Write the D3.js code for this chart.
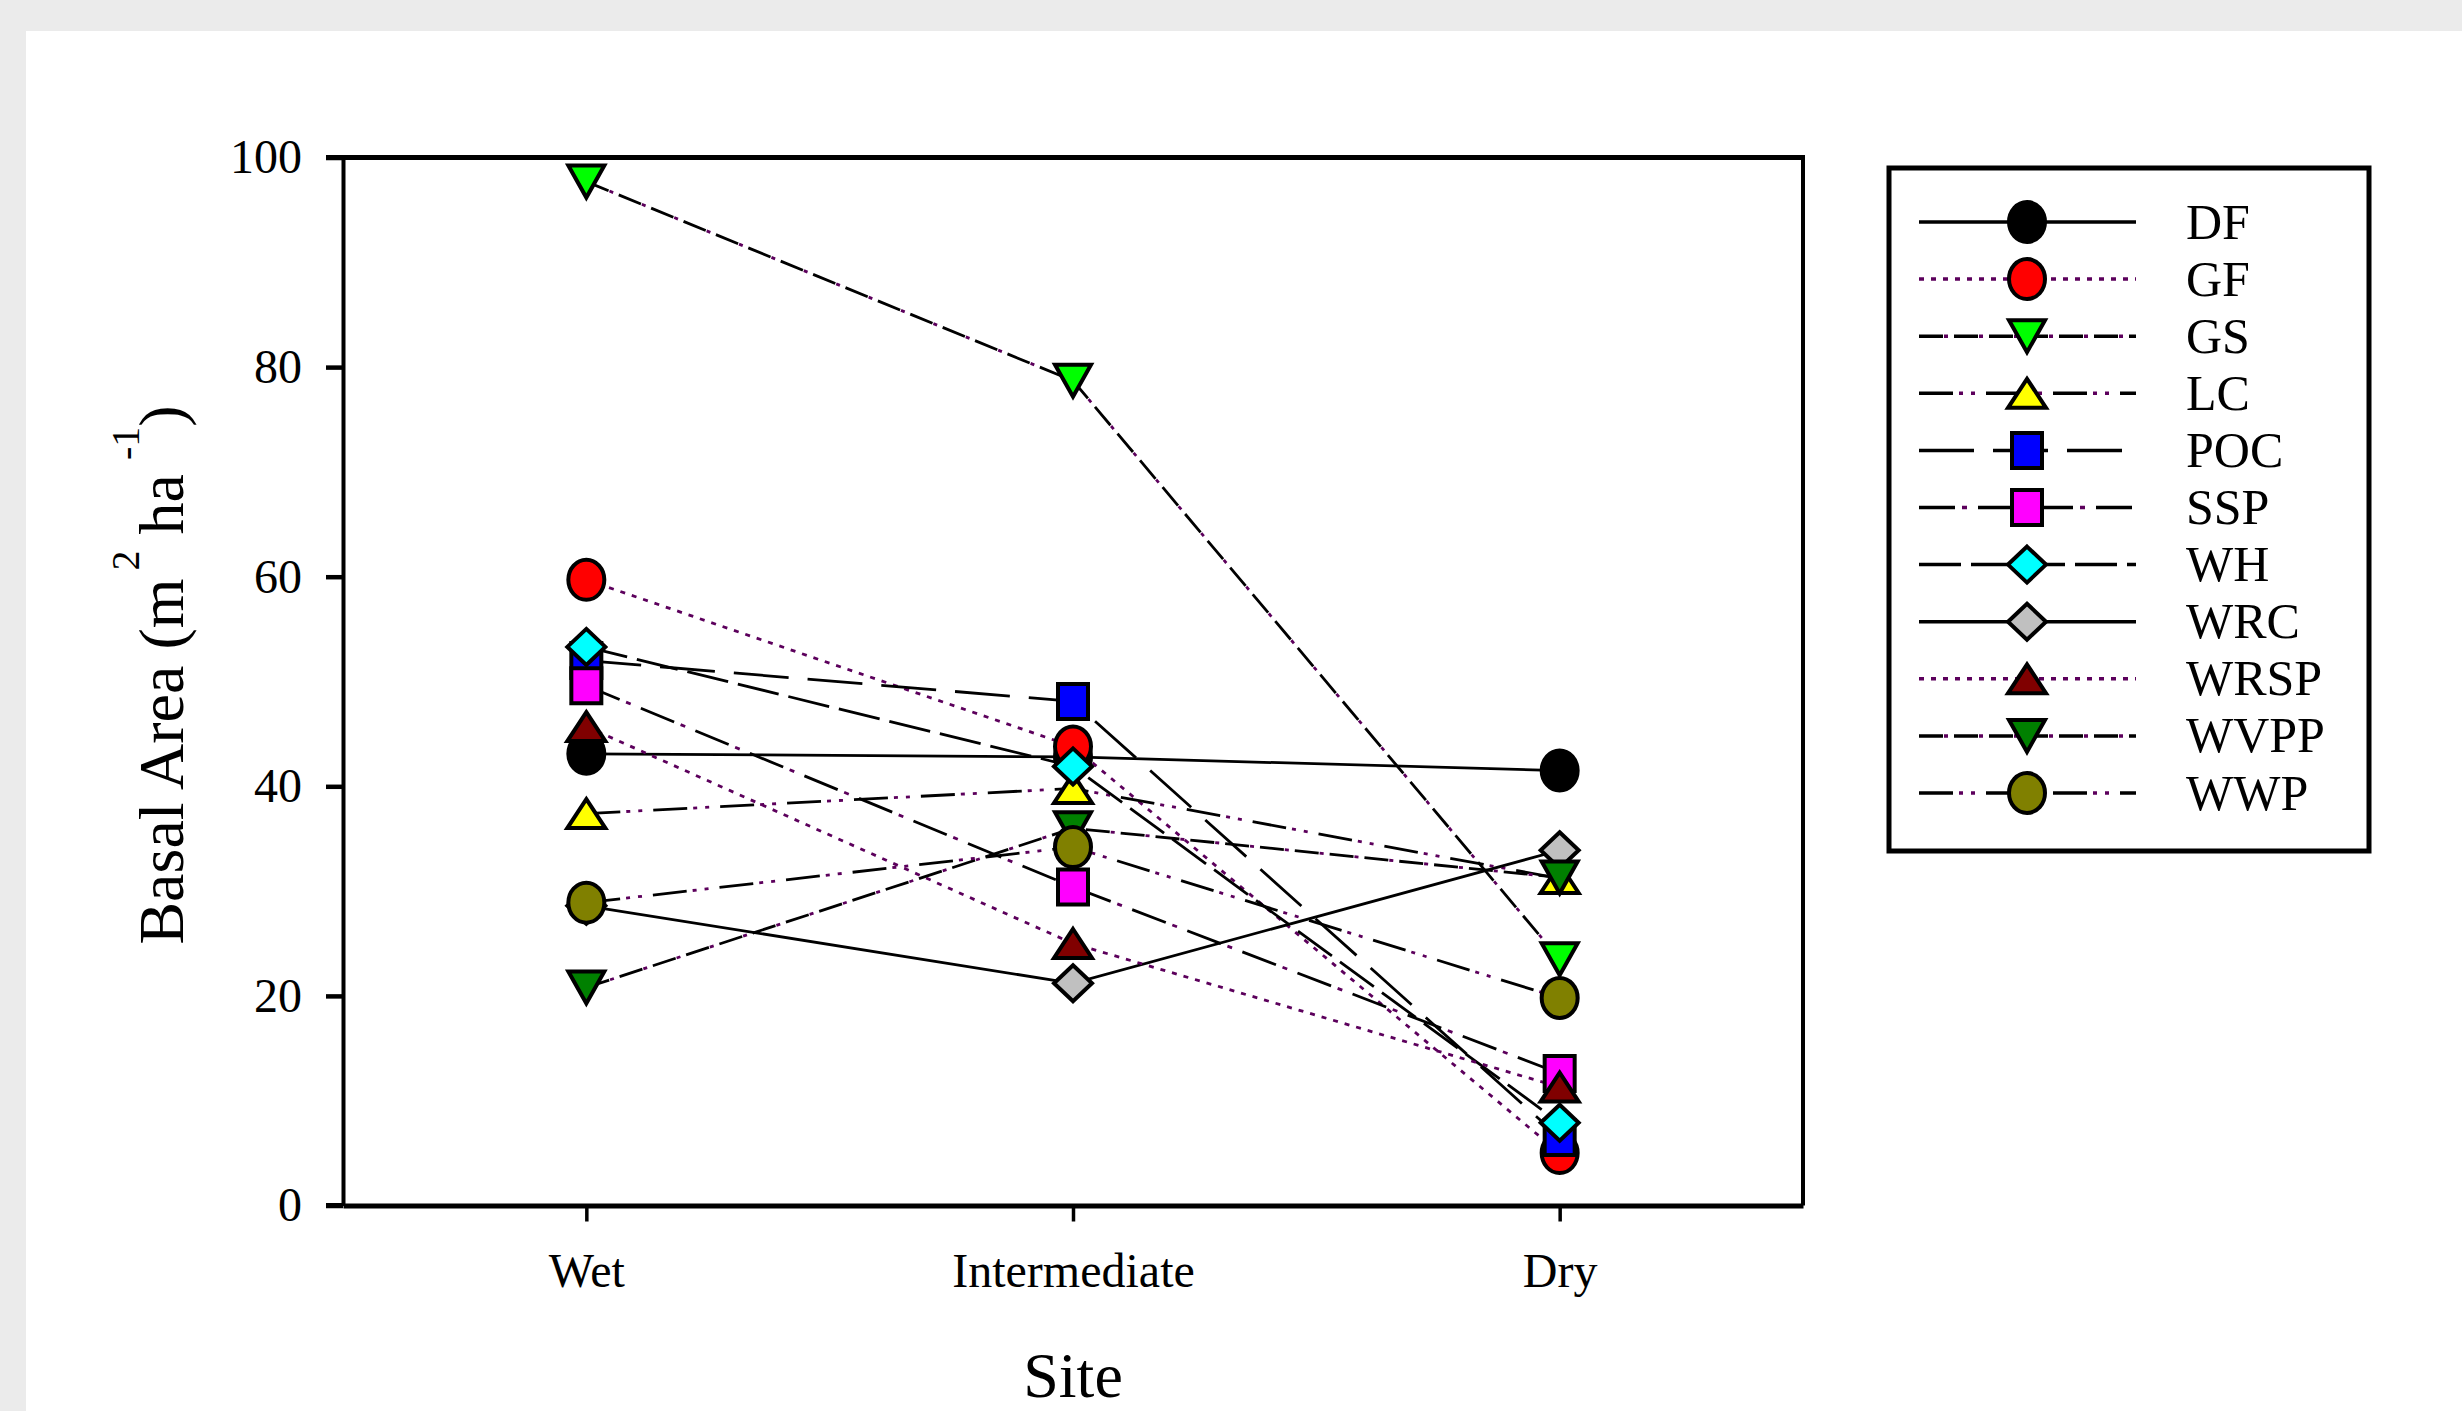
<!DOCTYPE html>
<html>
<head>
<meta charset="utf-8">
<script src="https://cdn.jsdelivr.net/npm/d3@7/dist/d3.min.js"></script>
<style>
	html, body { margin:0; padding:0; background:#ebebeb; overflow:hidden; }
	#chart { position:absolute; left:0; top:0; }
	text { font-family: "Liberation Serif", "Times New Roman", serif; fill:#000; }
</style>
</head>
<body>
<div id="chart"></div>
<script>

	// ---- data ----
	var sites   = ["Wet", "Intermediate", "Dry"];
	var species = ["DF", "GF", "GS", "LC", "POC", "SSP", "WH", "WRC", "WRSP", "WVPP", "WWP"];

	var DF   = [43.1, 42.8, 41.5];
	var GF   = [59.7, 43.8,  5.0];
	var GS   = [97.7, 78.7, 23.5];
	var LC   = [37.4, 39.8, 31.2];
	var POC  = [52.0, 48.1,  6.5];
	var SSP  = [49.6, 30.4, 12.6];
	var WH   = [53.3, 41.9,  7.9];
	var WRC  = [28.6, 21.2, 33.9];
	var WRSP = [45.7, 25.0, 11.3];
	var WVPP = [20.8, 36.0, 31.3];
	var WWP  = [28.9, 34.2, 19.8];

	var yTicks = [0, 20, 40, 60, 80, 100];

	var seriesValues = [DF, GF, GS, LC, POC, SSP, WH, WRC, WRSP, WVPP, WWP];

	// symbol + fill + line style per series
	var symbols = ["circle", "circle", "down", "up", "square", "square", "diamond", "diamond", "up", "down", "circle"];
	var fills   = ["#000000", "#ff0000", "#00ff00", "#ffff00", "#0000ff", "#ff00ff", "#00ffff", "#c0c0c0", "#800000", "#008000", "#808000"];
	var lineTypes = ["solid", "dot", "shortdash", "dashdotdot", "longdash", "dashdot", "meddash", "solid", "dot", "shortdash", "dashdotdot"];

	var purple = "#5c005c";

	// black part / purple part of each line type
	var lineStyles = {
		solid:      { black: null,      purple: undefined },
		dot:        { black: undefined, purple: "5,7" },
		shortdash:  { black: "24,11",   purple: "0,25,4,6" },
		dashdotdot: { black: "34,33",   purple: "0,40,4,8,4,11" },
		longdash:   { black: "55,19",   purple: undefined },
		dashdot:    { black: "36,23",   purple: "0,43,5,11" },
		meddash:    { black: "42,10",   purple: undefined }
	};

	// marker outline
	function symbolPath(type){
		var w, h;
		if(type == "circle"){
			w = 18; h = 20;
			return "M" + (-w) + ",0 A" + w + "," + h + " 0 1 0 " + w + ",0 A" + w + "," + h + " 0 1 0 " + (-w) + ",0 Z";
		}
		if(type == "square"){
			w = 30; h = 35;
			return "M" + (-w/2) + "," + (-h/2) + " H" + (w/2) + " V" + (h/2) + " H" + (-w/2) + " Z";
		}
		if(type == "up"){
			w = 38; h = 29;
			return "M0," + (-h/2) + " L" + (w/2) + "," + (h/2) + " L" + (-w/2) + "," + (h/2) + " Z";
		}
		if(type == "down"){
			w = 36; h = 32;
			return "M" + (-w/2) + "," + (-h/2) + " L" + (w/2) + "," + (-h/2) + " L0," + (h/2) + " Z";
		}
		// diamond
		w = 38; h = 36;
		return "M0," + (-h/2) + " L" + (w/2) + ",0 L0," + (h/2) + " L" + (-w/2) + ",0 Z";
	}


	// ---- canvas ----
	var W = 2462, H = 1411;
	var plot = {left: 343, right: 1803, top: 157.5, bottom: 1205.5};

	var svg = d3.select("#chart").append("svg")
				.attr("width", W)
				.attr("height", H);

	svg.append("rect").attr("width", W).attr("height", H).attr("fill", "#ebebeb");
	svg.append("rect").attr("x", 26).attr("y", 31).attr("width", W - 26).attr("height", H - 31).attr("fill", "#ffffff");


	// ---- scales / axes ----
	var x = d3.scalePoint().domain(sites).range([plot.left, plot.right]).padding(0.5);
	var y = d3.scaleLinear().domain([0, 100]).range([plot.bottom, plot.top]);

	var yAxis = d3.axisLeft(y).tickValues(yTicks).tickSize(17).tickSizeOuter(0).tickPadding(24);
	var xAxis = d3.axisBottom(x).tickSize(16).tickSizeOuter(0).tickPadding(31);

	var gy = svg.append("g")
				.attr("transform", "translate(" + plot.left + ",0)")
				.call(yAxis);
	gy.select(".domain").attr("stroke-width", 4);
	gy.selectAll(".tick line").attr("stroke-width", 4.5);
	gy.selectAll(".tick text").attr("font-size", 48).attr("font-family", null);

	var gx = svg.append("g")
				.attr("transform", "translate(0," + plot.bottom + ")")
				.call(xAxis);
	gx.select(".domain").attr("stroke-width", 5);
	gx.selectAll(".tick line").attr("stroke-width", 3.5);
	gx.selectAll(".tick text").attr("font-size", 48).attr("font-family", null);

	// top and right frame
	svg.append("line")
		.attr("x1", 326).attr("x2", plot.right + 2)
		.attr("y1", plot.top).attr("y2", plot.top)
		.attr("stroke", "#000").attr("stroke-width", 5);
	svg.append("line")
		.attr("x1", plot.right).attr("x2", plot.right)
		.attr("y1", plot.top).attr("y2", plot.bottom)
		.attr("stroke", "#000").attr("stroke-width", 4);
	svg.append("line")
		.attr("x1", 326).attr("x2", plot.left)
		.attr("y1", plot.bottom).attr("y2", plot.bottom)
		.attr("stroke", "#000").attr("stroke-width", 5);


	// ---- axis titles ----
	svg.append("text")
		.attr("x", x("Intermediate"))
		.attr("y", 1397)
		.attr("text-anchor", "middle")
		.attr("font-size", 64)
		.text("Site");

	var yTitle = svg.append("text")
		.attr("transform", "translate(183,675) rotate(-90)")
		.attr("text-anchor", "middle")
		.attr("font-size", 64);
	yTitle.append("tspan").text("Basal Area (m");
	yTitle.append("tspan").attr("dx", 8).attr("dy", -44).attr("font-size", 40).text("2");
	yTitle.append("tspan").attr("dy", 44).text(" ha");
	yTitle.append("tspan").attr("dx", 14).attr("dy", -44).attr("font-size", 40).text("-1");
	yTitle.append("tspan").attr("dy", 44).text(")");


	// ---- lines ----
	var drawLine = d3.line()
				.x(function(d, i) { return x(sites[i]); })
				.y(function(d) { return y(d); });

	function styledLine(parent, d, type, lw){
		var st = lineStyles[type];
		if(st.black !== undefined){
			parent.append("path")
				.attr("d", d)
				.attr("fill", "none")
				.attr("stroke", "#000")
				.attr("stroke-width", lw)
				.attr("stroke-dasharray", st.black);
		}
		if(st.purple !== undefined){
			parent.append("path")
				.attr("d", d)
				.attr("fill", "none")
				.attr("stroke", purple)
				.attr("stroke-width", lw)
				.attr("stroke-dasharray", st.purple);
		}
	}

	var lineGroup = svg.append("g").attr("class", "lines");
	seriesValues.forEach(function(vals, i){
		styledLine(lineGroup, drawLine(vals), lineTypes[i], 2.8);
	});

	// ---- markers ----
	var markGroup = svg.append("g").attr("class", "markers");
	seriesValues.forEach(function(vals, i){
		markGroup.selectAll(".m" + i)
			.data(vals)
			.enter().append("path")
				.attr("class", "m" + i)
				.attr("d", symbolPath(symbols[i]))
				.attr("transform", function(d, k) { return "translate(" + x(sites[k]) + "," + y(d) + ")"; })
				.attr("fill", fills[i])
				.attr("stroke", "#000")
				.attr("stroke-width", 4);
	});


	// ---- legend ----
	var legRow = d3.scalePoint().domain(species).range([222, 793]);

	svg.append("rect")
		.attr("x", 1889).attr("y", 168)
		.attr("width", 480).attr("height", 683)
		.attr("fill", "#fff")
		.attr("stroke", "#000")
		.attr("stroke-width", 5);

	species.forEach(function(name, i){
		var g = svg.append("g").attr("transform", "translate(0," + legRow(name) + ")");
		styledLine(g, "M1919,0 L2136,0", lineTypes[i], 3.5);
		g.append("path")
			.attr("d", symbolPath(symbols[i]))
			.attr("transform", "translate(2027,0)")
			.attr("fill", fills[i])
			.attr("stroke", "#000")
			.attr("stroke-width", 4);
		g.append("text")
			.attr("x", 2186)
			.attr("dy", "0.33em")
			.attr("font-size", 50)
			.text(name);
	});

</script>
</body>
</html>
